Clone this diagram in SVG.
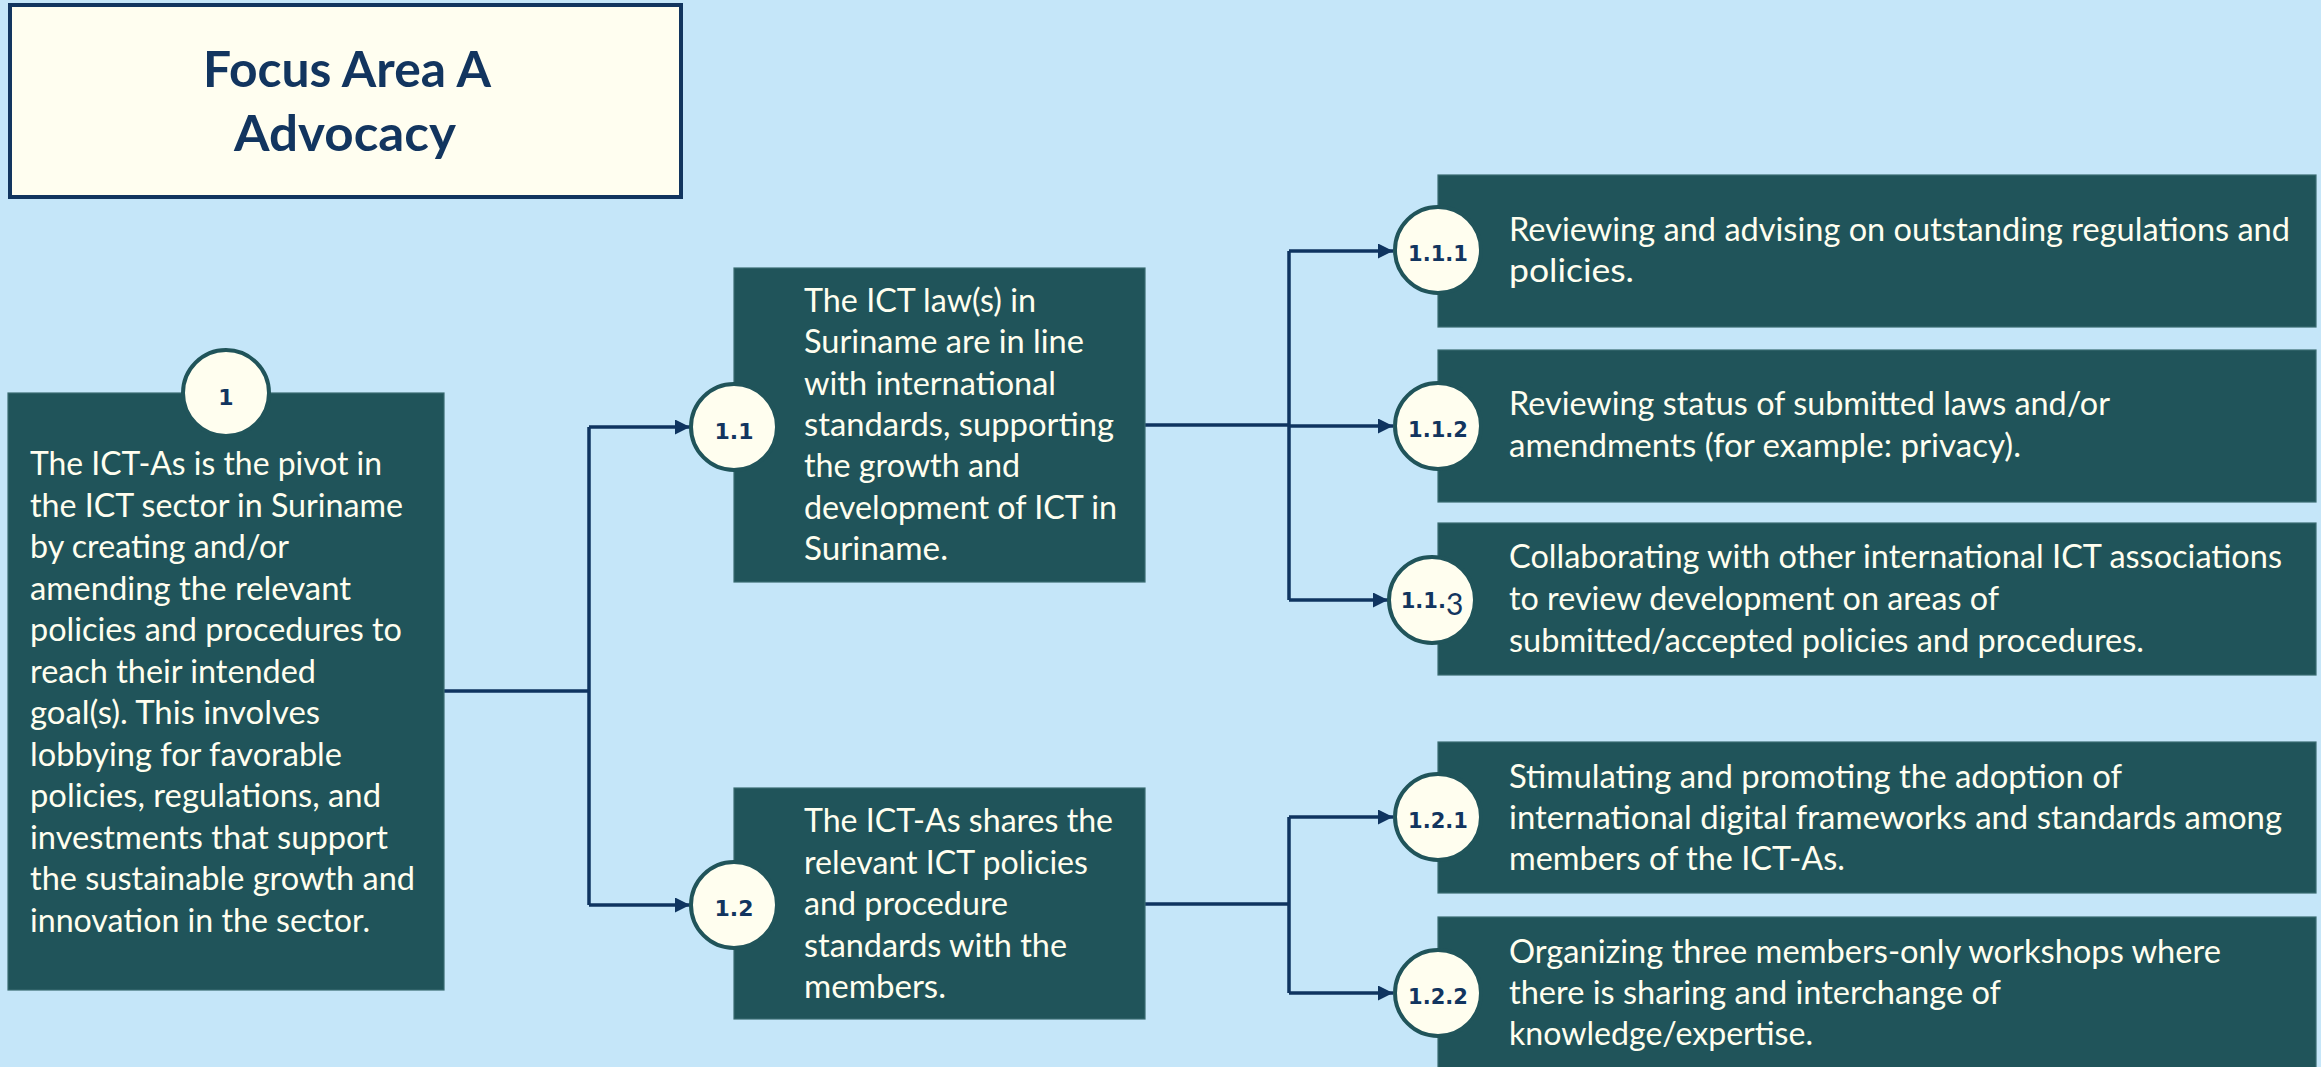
<svg xmlns="http://www.w3.org/2000/svg" width="2321" height="1067" viewBox="0 0 2321 1067">
<style>
.box{fill:#20545A;stroke:#3A6C71;stroke-width:1.2}
.num{fill:#FFFEEF;stroke:#20545A;stroke-width:4}
.t{font-family:Lato,"Liberation Sans",sans-serif;font-size:32px;fill:#FFFEEF}
.n{font-family:"DejaVu Sans",sans-serif;font-weight:bold;font-size:21px;fill:#12355F;text-anchor:middle}
.n2{font-size:22px}
.ttl{font-family:Lato,"Liberation Sans",sans-serif;font-weight:bold;font-size:50px;fill:#12355F;text-anchor:middle}
.c{fill:none;stroke:#0F3460;stroke-width:3.5}
</style>
<defs>
<marker id="ah" markerUnits="userSpaceOnUse" markerWidth="16" markerHeight="16" refX="15" refY="7.5" orient="auto">
<path d="M0,0 L15,7.5 L0,15 z" fill="#0F3460"/>
</marker>
</defs>
<rect x="0" y="0" width="2321" height="1067" fill="#C5E6F9"/>

<g id="title">
<rect x="10" y="5" width="671" height="192" fill="#FFFEF0" stroke="#12355F" stroke-width="4"/>
<text class="ttl" x="347" y="87" textLength="288" lengthAdjust="spacingAndGlyphs">Focus Area A</text>
<text class="ttl" x="345" y="151" textLength="222" lengthAdjust="spacingAndGlyphs">Advocacy</text>
</g>

<g id="connectors">
<path class="c" d="M444,691 H589 M589,427 V905"/>
<path class="c" d="M589,427 H690" marker-end="url(#ah)"/>
<path class="c" d="M589,905 H690" marker-end="url(#ah)"/>
<path class="c" d="M1145,425 H1289 M1289,251 V600"/>
<path class="c" d="M1289,251 H1393" marker-end="url(#ah)"/>
<path class="c" d="M1289,426 H1393" marker-end="url(#ah)"/>
<path class="c" d="M1289,600 H1388" marker-end="url(#ah)"/>
<path class="c" d="M1145,904 H1289 M1289,817 V993"/>
<path class="c" d="M1289,817 H1393" marker-end="url(#ah)"/>
<path class="c" d="M1289,993 H1393" marker-end="url(#ah)"/>
</g>

<g id="node-1">
<rect class="box" x="8" y="393" width="436" height="597"/>
<circle class="num" cx="226" cy="393" r="43"/>
<text class="n n2" x="226" y="405">1</text>
<text class="t" x="30" y="475" textLength="352" lengthAdjust="spacingAndGlyphs">The ICT-As is the pivot in</text>
<text class="t" x="30" y="516.5" textLength="373" lengthAdjust="spacingAndGlyphs">the ICT sector in Suriname</text>
<text class="t" x="30" y="558" textLength="259" lengthAdjust="spacingAndGlyphs">by creating and/or</text>
<text class="t" x="30" y="599.5" textLength="321" lengthAdjust="spacingAndGlyphs">amending the relevant</text>
<text class="t" x="30" y="641" textLength="372" lengthAdjust="spacingAndGlyphs">policies and procedures to</text>
<text class="t" x="30" y="682.5" textLength="286" lengthAdjust="spacingAndGlyphs">reach their intended</text>
<text class="t" x="30" y="724" textLength="290" lengthAdjust="spacingAndGlyphs">goal(s). This involves</text>
<text class="t" x="30" y="765.5" textLength="312" lengthAdjust="spacingAndGlyphs">lobbying for favorable</text>
<text class="t" x="30" y="807" textLength="351" lengthAdjust="spacingAndGlyphs">policies, regulations, and</text>
<text class="t" x="30" y="848.5" textLength="358" lengthAdjust="spacingAndGlyphs">investments that support</text>
<text class="t" x="30" y="890" textLength="385" lengthAdjust="spacingAndGlyphs">the sustainable growth and</text>
<text class="t" x="30" y="931.5" textLength="340" lengthAdjust="spacingAndGlyphs">innovation in the sector.</text>
</g>

<g id="node-1-1">
<rect class="box" x="734" y="268" width="411" height="314"/>
<circle class="num" cx="734" cy="427" r="43"/>
<text class="n n2" x="734" y="439">1.1</text>
<text class="t" x="804" y="312" textLength="232" lengthAdjust="spacingAndGlyphs">The ICT law(s) in</text>
<text class="t" x="804" y="353.3" textLength="280" lengthAdjust="spacingAndGlyphs">Suriname are in line</text>
<text class="t" x="804" y="394.6" textLength="252" lengthAdjust="spacingAndGlyphs">with international</text>
<text class="t" x="804" y="436" textLength="310" lengthAdjust="spacingAndGlyphs">standards, supporting</text>
<text class="t" x="804" y="477.3" textLength="216" lengthAdjust="spacingAndGlyphs">the growth and</text>
<text class="t" x="804" y="518.6" textLength="313" lengthAdjust="spacingAndGlyphs">development of ICT in</text>
<text class="t" x="804" y="560" textLength="144" lengthAdjust="spacingAndGlyphs">Suriname.</text>
</g>

<g id="node-1-2">
<rect class="box" x="734" y="788" width="411" height="231"/>
<circle class="num" cx="734" cy="905" r="43"/>
<text class="n n2" x="734" y="916">1.2</text>
<text class="t" x="804" y="832" textLength="309" lengthAdjust="spacingAndGlyphs">The ICT-As shares the</text>
<text class="t" x="804" y="873.5" textLength="284" lengthAdjust="spacingAndGlyphs">relevant ICT policies</text>
<text class="t" x="804" y="915" textLength="204" lengthAdjust="spacingAndGlyphs">and procedure</text>
<text class="t" x="804" y="956.5" textLength="263" lengthAdjust="spacingAndGlyphs">standards with the</text>
<text class="t" x="804" y="998" textLength="142" lengthAdjust="spacingAndGlyphs">members.</text>
</g>

<g id="node-1-1-1">
<rect class="box" x="1438" y="175" width="878" height="152"/>
<circle class="num" cx="1438" cy="250" r="43"/>
<text class="n" x="1438" y="261">1.1.1</text>
<text class="t" x="1509" y="241" textLength="781" lengthAdjust="spacingAndGlyphs">Reviewing and advising on outstanding regulations and</text>
<text class="t" x="1509" y="282" textLength="125" lengthAdjust="spacingAndGlyphs">policies.</text>
</g>

<g id="node-1-1-2">
<rect class="box" x="1438" y="350" width="878" height="152"/>
<circle class="num" cx="1438" cy="426" r="43"/>
<text class="n" x="1438" y="437">1.1.2</text>
<text class="t" x="1509" y="415" textLength="601" lengthAdjust="spacingAndGlyphs">Reviewing status of submitted laws and/or</text>
<text class="t" x="1509" y="457" textLength="512" lengthAdjust="spacingAndGlyphs">amendments (for example: privacy).</text>
</g>

<g id="node-1-1-3">
<rect class="box" x="1438" y="523" width="878" height="152"/>
<circle class="num" cx="1432" cy="600" r="43"/>
<text class="n" x="1432" y="608">1.1.<tspan font-family="Lato, sans-serif" font-weight="normal" font-size="30" dy="7">3</tspan></text>
<text class="t" x="1509" y="568" textLength="773" lengthAdjust="spacingAndGlyphs">Collaborating with other international ICT associations</text>
<text class="t" x="1509" y="610" textLength="490" lengthAdjust="spacingAndGlyphs">to review development on areas of</text>
<text class="t" x="1509" y="652" textLength="635" lengthAdjust="spacingAndGlyphs">submitted/accepted policies and procedures.</text>
</g>

<g id="node-1-2-1">
<rect class="box" x="1438" y="742" width="878" height="151"/>
<circle class="num" cx="1438" cy="817" r="43"/>
<text class="n" x="1438" y="828">1.2.1</text>
<text class="t" x="1509" y="788" textLength="613" lengthAdjust="spacingAndGlyphs">Stimulating and promoting the adoption of</text>
<text class="t" x="1509" y="829" textLength="773" lengthAdjust="spacingAndGlyphs">international digital frameworks and standards among</text>
<text class="t" x="1509" y="870" textLength="336" lengthAdjust="spacingAndGlyphs">members of the ICT-As.</text>
</g>

<g id="node-1-2-2">
<rect class="box" x="1438" y="917" width="878" height="152"/>
<circle class="num" cx="1438" cy="993" r="43"/>
<text class="n" x="1438" y="1004">1.2.2</text>
<text class="t" x="1509" y="963" textLength="712" lengthAdjust="spacingAndGlyphs">Organizing three members-only workshops where</text>
<text class="t" x="1509" y="1004" textLength="492" lengthAdjust="spacingAndGlyphs">there is sharing and interchange of</text>
<text class="t" x="1509" y="1045" textLength="304" lengthAdjust="spacingAndGlyphs">knowledge/expertise.</text>
</g>
</svg>
